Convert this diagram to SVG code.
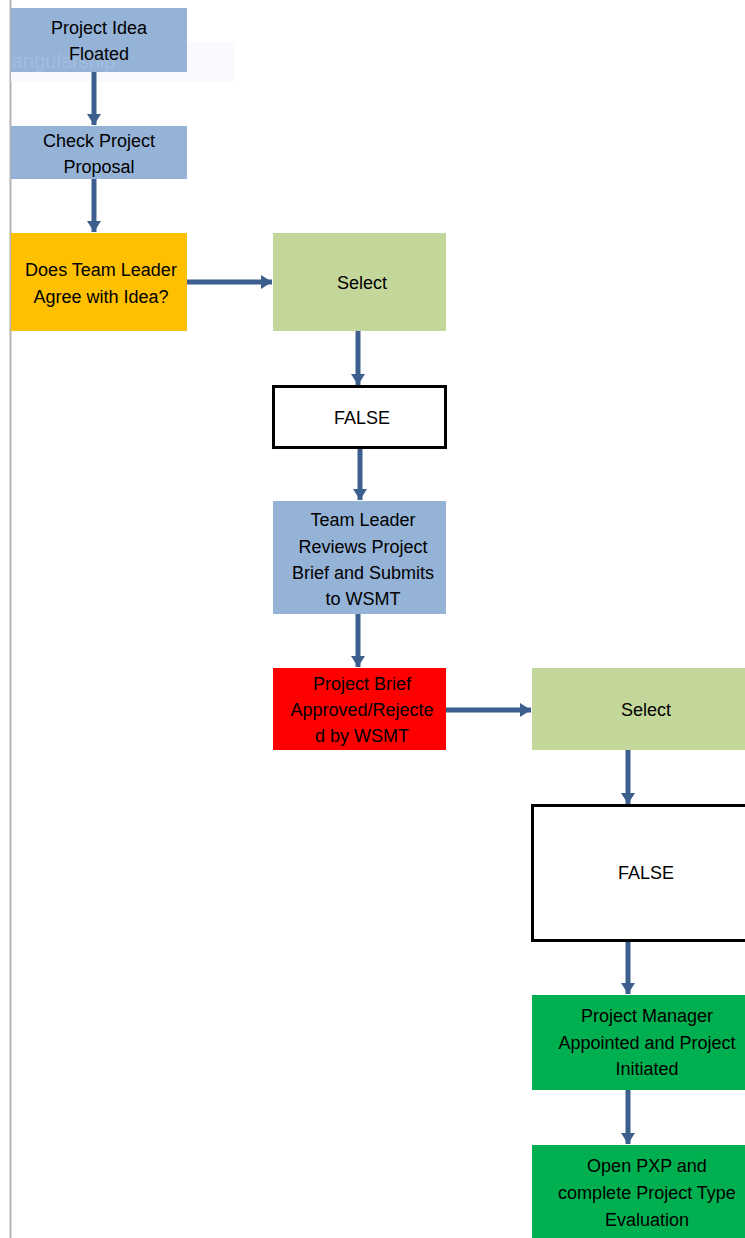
<svg xmlns="http://www.w3.org/2000/svg" width="745" height="1238" viewBox="0 0 745 1238">
<defs>
<marker id="ah" markerUnits="userSpaceOnUse" markerWidth="16" markerHeight="16" viewBox="0 0 16 16" refX="11" refY="8" orient="auto">
<path d="M0,1 L11,8 L0,15 Z" fill="#3d5f8e"/>
</marker>
<style>
.t{font-family:"Liberation Sans",Arial,sans-serif;font-size:18px;fill:#000;text-anchor:middle}
.c{stroke:#3d5f8e;stroke-width:5;fill:none;marker-end:url(#ah)}
.blue{fill:#95b3d7}
.green{fill:#c4d79b}
.dg{fill:#00b050}
.fb{fill:#fff;stroke:#000;stroke-width:3}
</style>
</defs>
<rect width="745" height="1238" fill="#fff"/>
<line x1="10.5" y1="0" x2="10.5" y2="1238" stroke="#b4b4b4" stroke-width="2"/>
<rect x="11" y="42" width="224" height="40" fill="#f8fafe"/>
<g id="connectors">
<line class="c" x1="94" y1="72" x2="94" y2="125"/>
<line class="c" x1="94" y1="179" x2="94" y2="232"/>
<line class="c" x1="187" y1="282" x2="272" y2="282"/>
<line class="c" x1="358" y1="331" x2="358" y2="385"/>
<line class="c" x1="360" y1="448" x2="360" y2="500"/>
<line class="c" x1="358" y1="614" x2="358" y2="667"/>
<line class="c" x1="446" y1="710" x2="531" y2="710"/>
<line class="c" x1="628" y1="750" x2="628" y2="804"/>
<line class="c" x1="628" y1="941" x2="628" y2="994"/>
<line class="c" x1="628" y1="1090" x2="628" y2="1144"/>
</g>
<g id="n1"><rect class="blue" x="11" y="8" width="176" height="64"/>
<text x="12" y="68" style="font-family:'Liberation Sans',Arial,sans-serif;font-size:20px;fill:#a3bde0">angularship</text>
<text class="t" x="99" y="34">Project Idea</text><text class="t" x="99" y="60">Floated</text></g>
<g id="n2"><rect class="blue" x="11" y="126" width="176" height="53"/>
<text class="t" x="99" y="147">Check Project</text><text class="t" x="99" y="173">Proposal</text></g>
<g id="n3"><rect fill="#ffc000" x="11" y="233" width="176" height="98"/>
<text class="t" x="101" y="276">Does Team Leader</text><text class="t" x="101" y="303">Agree with Idea?</text></g>
<g id="n4"><rect class="green" x="273" y="233" width="173" height="98"/>
<text class="t" x="362" y="289">Select</text></g>
<g id="n5"><rect class="fb" x="273.5" y="386.5" width="172" height="61"/>
<text class="t" x="362" y="424">FALSE</text></g>
<g id="n6"><rect class="blue" x="273" y="501" width="173" height="113"/>
<text class="t" x="363" y="526">Team Leader</text><text class="t" x="363" y="553">Reviews Project</text><text class="t" x="363" y="579">Brief and Submits</text><text class="t" x="363" y="605">to WSMT</text></g>
<g id="n7"><rect fill="#ff0000" x="273" y="668" width="173" height="82"/>
<text class="t" x="362" y="690">Project Brief</text><text class="t" x="362" y="716">Approved/Rejecte</text><text class="t" x="362" y="742">d by WSMT</text></g>
<g id="n8"><rect class="green" x="532" y="668" width="230" height="82"/>
<text class="t" x="646" y="716">Select</text></g>
<g id="n9"><rect class="fb" x="532.5" y="805.5" width="230" height="135"/>
<text class="t" x="646" y="879">FALSE</text></g>
<g id="n10"><rect class="dg" x="532" y="995" width="230" height="95"/>
<text class="t" x="647" y="1022">Project Manager</text><text class="t" x="647" y="1049">Appointed and Project</text><text class="t" x="647" y="1075">Initiated</text></g>
<g id="n11"><rect class="dg" x="532" y="1145" width="230" height="100"/>
<text class="t" x="647" y="1172">Open PXP and</text><text class="t" x="647" y="1199">complete Project Type</text><text class="t" x="647" y="1226">Evaluation</text></g>
</svg>
